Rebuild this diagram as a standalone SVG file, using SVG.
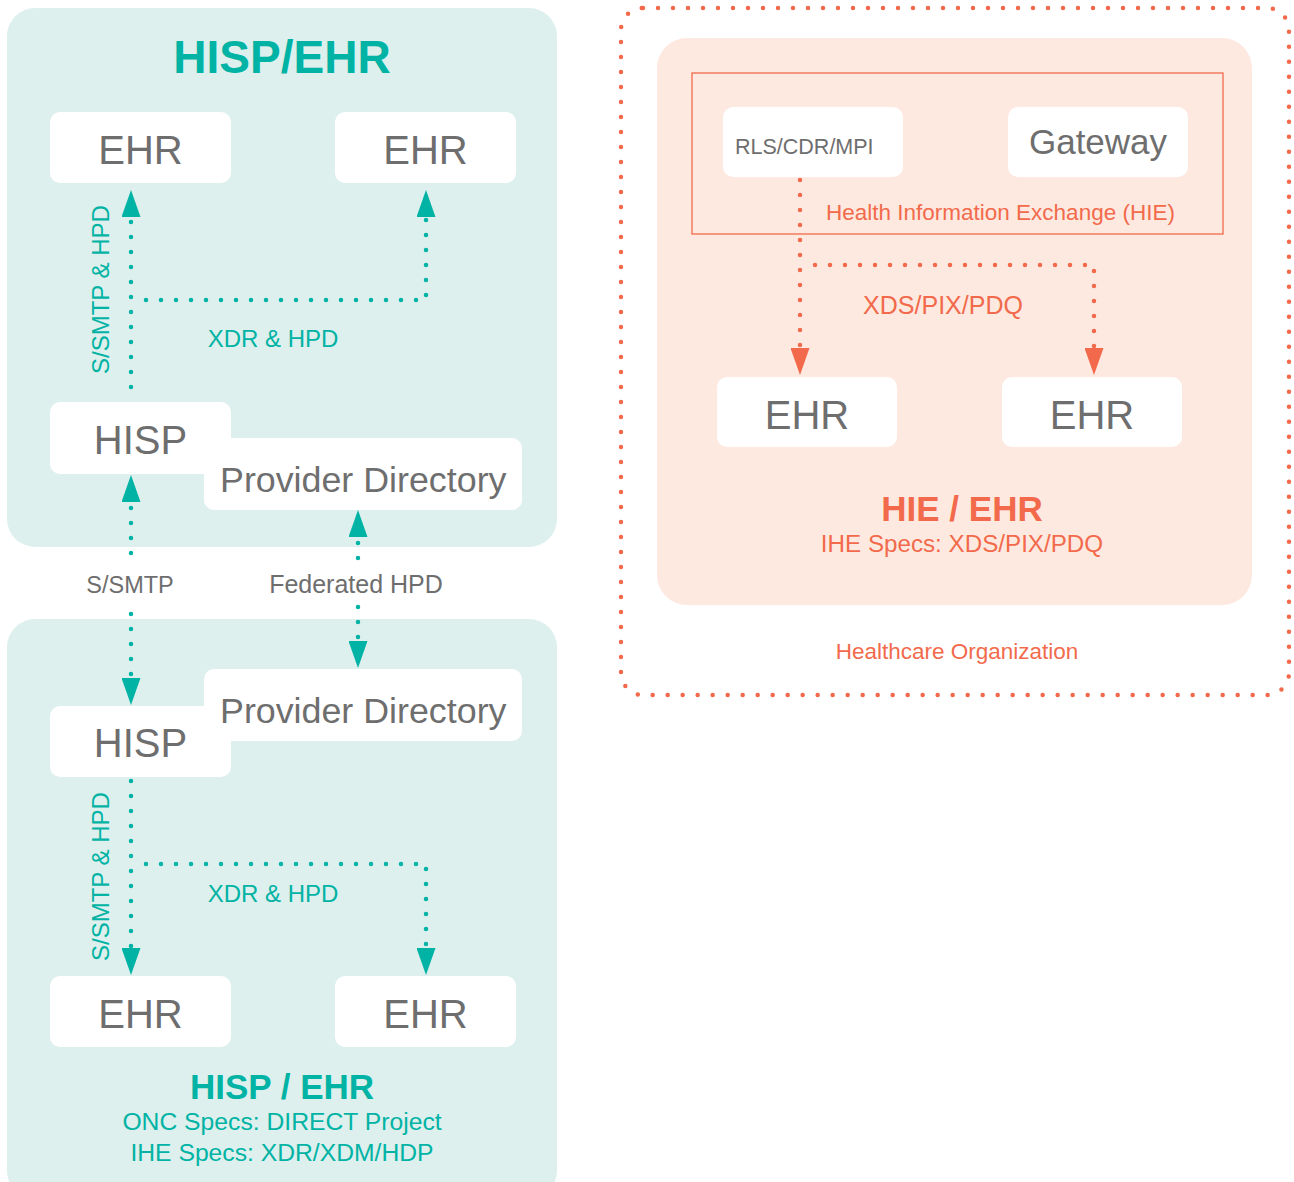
<svg xmlns="http://www.w3.org/2000/svg" width="1294" height="1182" viewBox="0 0 1294 1182">
  <style>
    .panel-t { fill: #ddf0ed; }
    .panel-o { fill: #fde9e0; }
    .box { fill: #ffffff; }
    .lbl { font-family: "Liberation Sans", Arial, sans-serif; fill: #6e6e6e; }
    .big { font-size: 40px; text-anchor: middle; }
    .teal { font-family: "Liberation Sans", Arial, sans-serif; fill: #00b3a4; }
    .orng { font-family: "Liberation Sans", Arial, sans-serif; fill: #f26a4b; }
    .mid { text-anchor: middle; }
    .bold { font-weight: bold; }
    .dot-t { fill: none; stroke: #00b3a4; stroke-width: 4.5; stroke-linecap: round; stroke-dasharray: 0 15; }
    .dot-o { fill: none; stroke: #f26a4b; stroke-width: 4.5; stroke-linecap: round; stroke-dasharray: 0 15; }
  </style>
  <defs>
    <marker id="arrow-t" viewBox="0 0 27 19" refX="0" refY="9.5" markerWidth="27" markerHeight="19" markerUnits="userSpaceOnUse" orient="auto">
      <path d="M0,0 L27,9.5 L0,19 z" fill="#00b3a4"/>
    </marker>
    <marker id="arrow-o" viewBox="0 0 27 19" refX="0" refY="9.5" markerWidth="27" markerHeight="19" markerUnits="userSpaceOnUse" orient="auto">
      <path d="M0,0 L27,9.5 L0,19 z" fill="#f26a4b"/>
    </marker>
  </defs>

  <!-- panels -->
  <g id="panel-hisp-top">
    <rect class="panel-t" x="7" y="8" width="550" height="539" rx="28"/>
    <text class="teal mid bold" x="282" y="73" font-size="46">HISP/EHR</text>
  </g>
  <g id="panel-hisp-bottom">
    <rect class="panel-t" x="7" y="619" width="550" height="580" rx="28"/>
    <text class="teal mid bold" x="282" y="1099" font-size="35">HISP / EHR</text>
    <text class="teal mid" x="282" y="1130" font-size="24.7">ONC Specs: DIRECT Project</text>
    <text class="teal mid" x="282" y="1161" font-size="24.7">IHE Specs: XDR/XDM/HDP</text>
  </g>
  <g id="healthcare-org">
    <rect class="dot-o" x="621" y="8" width="668" height="687" rx="22"/>
    <text class="orng mid" x="957" y="659" font-size="22.5">Healthcare Organization</text>
  </g>
  <g id="panel-hie">
    <rect class="panel-o" x="657" y="38" width="595" height="567" rx="30"/>
    <text class="orng mid bold" x="962" y="521" font-size="35">HIE / EHR</text>
    <text class="orng mid" x="962" y="552" font-size="24.2">IHE Specs: XDS/PIX/PDQ</text>
  </g>
  <g id="hie-exchange">
    <rect x="692" y="73" width="531" height="161" fill="none" stroke="#f26a4b" stroke-width="1.3"/>
    <text class="orng" x="826" y="220" font-size="22.5">Health Information Exchange (HIE)</text>
  </g>

  <!-- top HISP/EHR nodes -->
  <g id="ehr-top-left">
    <rect class="box" x="50" y="112" width="181" height="71" rx="10"/>
    <text class="lbl big" x="140.5" y="164">EHR</text>
  </g>
  <g id="ehr-top-right">
    <rect class="box" x="335" y="112" width="181" height="71" rx="10"/>
    <text class="lbl big" x="425.5" y="164">EHR</text>
  </g>
  <g id="hisp-top">
    <rect class="box" x="50" y="402" width="181" height="72" rx="10"/>
    <text class="lbl big" x="140.5" y="454">HISP</text>
  </g>
  <g id="directory-top">
    <rect class="box" x="204" y="438" width="318" height="72" rx="10"/>
    <text class="lbl" x="220" y="492" font-size="35.8">Provider Directory</text>
  </g>

  <!-- bottom HISP/EHR nodes -->
  <g id="hisp-bottom">
    <rect class="box" x="50" y="706" width="181" height="71" rx="10"/>
    <text class="lbl big" x="140.5" y="757">HISP</text>
  </g>
  <g id="directory-bottom">
    <rect class="box" x="204" y="669" width="318" height="72" rx="10"/>
    <text class="lbl" x="220" y="723" font-size="35.8">Provider Directory</text>
  </g>
  <g id="ehr-bottom-left">
    <rect class="box" x="50" y="976" width="181" height="71" rx="10"/>
    <text class="lbl big" x="140.5" y="1028">EHR</text>
  </g>
  <g id="ehr-bottom-right">
    <rect class="box" x="335" y="976" width="181" height="71" rx="10"/>
    <text class="lbl big" x="425.5" y="1028">EHR</text>
  </g>

  <!-- HIE nodes -->
  <g id="rls-cdr-mpi">
    <rect class="box" x="723" y="107" width="180" height="70" rx="10"/>
    <text class="lbl" x="735" y="154" font-size="21.5">RLS/CDR/MPI</text>
  </g>
  <g id="gateway">
    <rect class="box" x="1008" y="107" width="180" height="70" rx="10"/>
    <text class="lbl mid" x="1098" y="154" font-size="35">Gateway</text>
  </g>
  <g id="ehr-hie-left">
    <rect class="box" x="717" y="377" width="180" height="70" rx="10"/>
    <text class="lbl big" x="807" y="429">EHR</text>
  </g>
  <g id="ehr-hie-right">
    <rect class="box" x="1002" y="377" width="180" height="70" rx="10"/>
    <text class="lbl big" x="1092" y="429">EHR</text>
  </g>

  <!-- connectors -->
  <g id="connectors">
    <!-- top panel: HISP to EHRs -->
    <path class="dot-t" d="M131,387 V217" marker-end="url(#arrow-t)"/>
    <path class="dot-t" d="M146,300 H426 V217" marker-end="url(#arrow-t)"/>
    <text class="teal" transform="translate(109,289.5) rotate(-90)" text-anchor="middle" font-size="24">S/SMTP &amp; HPD</text>
    <text class="teal mid" x="273" y="347" font-size="24">XDR &amp; HPD</text>

    <!-- between panels -->
    <path class="dot-t" d="M131,553 V502" marker-end="url(#arrow-t)"/>
    <path class="dot-t" d="M131,614 V678" marker-end="url(#arrow-t)"/>
    <text class="lbl mid" x="130" y="593" font-size="23.5">S/SMTP</text>
    <path class="dot-t" d="M358,558 V537" marker-end="url(#arrow-t)"/>
    <path class="dot-t" d="M358,607 V641" marker-end="url(#arrow-t)"/>
    <text class="lbl mid" x="356" y="593" font-size="25">Federated HPD</text>

    <!-- bottom panel: HISP to EHRs -->
    <path class="dot-t" d="M131,781 V948" marker-end="url(#arrow-t)"/>
    <path class="dot-t" d="M146,864 H426 V948" marker-end="url(#arrow-t)"/>
    <text class="teal" transform="translate(109,876.5) rotate(-90)" text-anchor="middle" font-size="24">S/SMTP &amp; HPD</text>
    <text class="teal mid" x="273" y="902" font-size="24">XDR &amp; HPD</text>

    <!-- HIE to EHRs -->
    <path class="dot-o" d="M800,180 V348" marker-end="url(#arrow-o)"/>
    <path class="dot-o" d="M815,265 H1094 V348" marker-end="url(#arrow-o)"/>
    <text class="orng mid" x="943" y="314" font-size="25">XDS/PIX/PDQ</text>
  </g>
</svg>
